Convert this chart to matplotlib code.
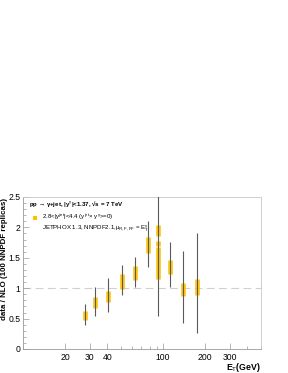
import matplotlib
matplotlib.use("Agg")
import matplotlib.pyplot as plt
from matplotlib.patches import Rectangle
from matplotlib.ticker import FixedLocator, NullFormatter, FixedFormatter, MultipleLocator

plt.rcParams['font.family'] = ['Liberation Sans', 'DejaVu Sans']
plt.rcParams['mathtext.fontset'] = 'custom'
plt.rcParams['mathtext.rm'] = 'Liberation Sans'
plt.rcParams['mathtext.it'] = 'Liberation Sans'
plt.rcParams['mathtext.bf'] = 'Liberation Sans:bold'

# data: E_T bin positions (GeV), box (PDF band) and error bar extents
et = [27.7, 32.8, 40.6, 50.7, 63.4, 78.1, 92.6, 92.6, 92.6, 112.0, 137.7, 175.0]
box_lo = [0.477, 0.668, 0.768, 0.987, 1.135, 1.583, 1.863, 1.699, 1.146, 1.241, 0.872, 0.888]
box_hi = [0.630, 0.860, 0.959, 1.234, 1.365, 1.836, 2.039, 1.776, 1.673, 1.472, 1.091, 1.151]
err_et = [27.7, 32.8, 40.6, 50.7, 63.4, 78.1, 92.6, 112.0, 137.7, 175.0]
err_lo = [0.395, 0.547, 0.603, 0.881, 1.020, 1.343, 0.543, 1.012, 0.432, 0.270]
err_hi = [0.735, 1.024, 1.163, 1.382, 1.513, 2.110, 2.600, 1.752, 1.612, 1.902]
xtick_vals = [20, 30, 40, 100, 200, 300]
xtick_labels = ['20', '30', '40', '100', '200', '300']
ytick_vals = [0, 0.5, 1, 1.5, 2, 2.5]
ytick_labels = ['0', '0.5', '1', '1.5', '2', '2.5']

gold = '#FFC000'
W, H = 288, 373
fig = plt.figure(figsize=(2.88, 3.73), dpi=100)
ax = fig.add_axes([23/W, 1-349/H, (261-23)/W, (349-197)/H])
ax.set_xscale('log')
ax.set_xlim(10, 500)
ax.set_ylim(0, 2.5)

ax.axhline(1.0, color='#d0d0d0', lw=0.8, dashes=(7, 4), zorder=1)
ax.vlines(et, box_lo, box_hi, colors=gold, lw=3.4, alpha=0.9, zorder=2)
ax.vlines(err_et, err_lo, err_hi, colors='#5a5a5a', lw=0.8, zorder=3)

ax.xaxis.set_major_locator(FixedLocator(xtick_vals))
ax.xaxis.set_major_formatter(FixedFormatter(xtick_labels))
minors = [m * d for d in (10, 100) for m in range(1, 10) if m * d not in xtick_vals and m * d <= 500]
ax.xaxis.set_minor_locator(FixedLocator(minors))
ax.xaxis.set_minor_formatter(NullFormatter())
ax.yaxis.set_major_locator(FixedLocator(ytick_vals))
ax.yaxis.set_major_formatter(FixedFormatter(ytick_labels))
ax.yaxis.set_minor_locator(MultipleLocator(0.1))

ax.tick_params(axis='both', which='both', direction='in', colors='#999999', labelcolor='black', labelsize=6.2, width=0.5)
ax.tick_params(axis='both', which='major', length=4)
ax.tick_params(axis='both', which='minor', length=2)
ax.tick_params(axis='x', which='both', top=False, pad=3)
ax.tick_params(axis='y', which='both', right=False, pad=2)
for s in ['top', 'right']:
    ax.spines[s].set_color('#c8c8c8')
for s in ['left', 'bottom']:
    ax.spines[s].set_color('#999999')
for s in ax.spines.values():
    s.set_linewidth(0.6)

fig.text(4.3/W, 1-198/H, 'data / NLO (100 NNPDF replicas)', fontsize=5.7, fontweight='bold',
         rotation=90, ha='center', va='top')
fig.text(261/W, 1-368/H, r'E$_\mathrm{T}$(GeV)', fontsize=6.3, fontweight='bold', ha='right', va='center')

fig.text(29/W, 1-204/H, 'pp → γ+jet, |y' + r'$^{\gamma}$' + '|<1.37, √s = 7 TeV',
         fontsize=4.4, fontweight='bold', ha='left', va='center')
fig.add_artist(Rectangle((33/W, 1-220/H), 4/W, 4/H, transform=fig.transFigure, color=gold, lw=0))
fig.text(42/W, 1-217/H, r'2.8<|y$^{\mathrm{jet}}$|<4.4 (y$^{\mathrm{jet}}$$\times$ y$^{\gamma}$>=0)',
         fontsize=4.4, ha='left', va='center')
fig.text(42/W, 1-229/H, r'JETPHOX 1.3, NNPDF2.1,$\mu_{\mathrm{R,F,FF}}$ = E$_\mathrm{T}^{\gamma}$',
         fontsize=4.4, ha='left', va='center')

fig.savefig('out.png', dpi=100)
